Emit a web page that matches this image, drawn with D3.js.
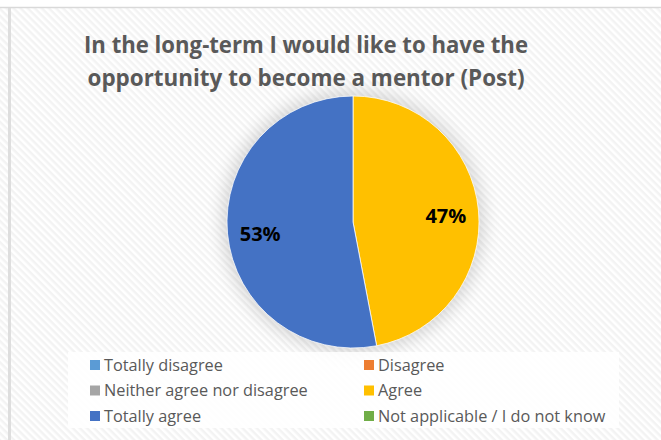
<!DOCTYPE html>
<html>
<head>
<meta charset="utf-8">
<script src="https://cdn.jsdelivr.net/npm/d3@7"></script>
<style>
  html, body { margin: 0; padding: 0; background: #fff; }
  svg text { font-family: "Open Sans", "Liberation Sans", sans-serif; }
</style>
</head>
<body>
<div id="chart"></div>
<script>
/* ============================================================
   Chart: mentor opportunity (Post) - pie
   ============================================================ */

const categories = ['Totally disagree', 'Disagree', 'Neither agree nor disagree', 'Agree', 'Totally agree', 'Not applicable / I do not know'];
const values = [0, 0, 0, 47, 53, 0];
const colors = ['#5B9BD5', '#ED7D31', '#A5A5A5', '#FFC000', '#4472C4', '#70AD47'];
const titleLines = ['In the long-term I would like to have the', 'opportunity to become a mentor (Post)'];

const W = 661, H = 440;

const svg = d3.select('#chart').append('svg')
    .attr('width', W).attr('height', H);

const defs = svg.append('defs');

// diagonal stripe background
const pat = defs.append('pattern')
    .attr('id', 'stripes')
    .attr('patternUnits', 'userSpaceOnUse')
    .attr('width', 5).attr('height', 5)
    .attr('patternTransform', 'rotate(45)');
pat.append('rect').attr('width', 5).attr('height', 5).attr('fill', '#ffffff');
pat.append('rect').attr('width', 5).attr('height', 2.5).attr('fill', '#f3f3f3');

const shadow = defs.append('filter').attr('id', 'glow')
    .attr('x', '-30%').attr('y', '-30%').attr('width', '160%').attr('height', '160%');
shadow.append('feGaussianBlur').attr('stdDeviation', 9);

svg.append('rect').attr('x', 0).attr('y', 8).attr('width', W).attr('height', H - 8)
    .attr('fill', 'url(#stripes)');
svg.append('line').attr('x1', 0).attr('x2', W).attr('y1', 7.5).attr('y2', 7.5)
    .attr('stroke', '#d9d9d9').attr('stroke-width', 1.5);
svg.append('line').attr('x1', 9.5).attr('x2', 9.5).attr('y1', 8).attr('y2', H)
    .attr('stroke', '#dedede').attr('stroke-width', 3);

// Title (narrow like Calibri: squeeze glyphs to the reference widths)
const titleWidths = [444, 437];
const title = svg.append('text')
    .attr('text-anchor', 'middle')
    .attr('fill', '#595959')
    .attr('font-weight', 'bold')
    .attr('font-size', 23.5);
titleLines.forEach((t, i) => {
    title.append('tspan').attr('x', 306).attr('y', 53 + i * 33)
        .attr('textLength', titleWidths[i]).attr('lengthAdjust', 'spacingAndGlyphs')
        .text(t);
});

// Pie
const cx = 353, cy = 222, r = 126;
const pie = d3.pie().sort(null).value(d => d.value);
const arcs = pie(categories.map((c, i) => ({ name: c, value: values[i], color: colors[i] })));
const arc = d3.arc().innerRadius(0).outerRadius(r);
const labelArc = d3.arc().innerRadius(r * 0.74).outerRadius(r * 0.74);

const g = svg.append('g').attr('transform', `translate(${cx},${cy})`);
g.append('circle').attr('r', r + 4).attr('fill', '#000').attr('opacity', 0.16)
    .attr('filter', 'url(#glow)');

g.selectAll('path.slice')
    .data(arcs.filter(d => d.data.value > 0))
    .join('path')
    .attr('class', 'slice')
    .attr('d', arc)
    .attr('fill', d => d.data.color)
    .attr('stroke', '#ffffff')
    .attr('stroke-width', 0.75);

const total = d3.sum(values);
g.selectAll('text.pct')
    .data(arcs.filter(d => d.data.value > 0))
    .join('text')
    .attr('class', 'pct')
    .attr('transform', d => `translate(${labelArc.centroid(d)})`)
    .attr('text-anchor', 'middle')
    .attr('dy', '0.5em')
    .attr('font-size', 20)
    .attr('font-weight', 'bold')
    .attr('fill', '#000')
    .text(d => d3.format('.0%')(d.data.value / total));

// Legend
svg.append('rect').attr('x', 68).attr('y', 352).attr('width', 551).attr('height', 76)
    .attr('fill', '#ffffff').attr('opacity', 0.85);

const legend = svg.append('g');
const colX = [90, 364];
categories.forEach((c, i) => {
    const col = i % 2, row = Math.floor(i / 2);
    const x = colX[col], y = 365 + row * 25.5;
    legend.append('rect').attr('x', x).attr('y', y - 5).attr('width', 10).attr('height', 10)
        .attr('fill', colors[i]);
    legend.append('text').attr('x', x + 14).attr('y', y).attr('dy', '0.36em')
        .attr('font-size', 16.3).attr('fill', '#595959').text(c);
});
</script>
</body>
</html>
